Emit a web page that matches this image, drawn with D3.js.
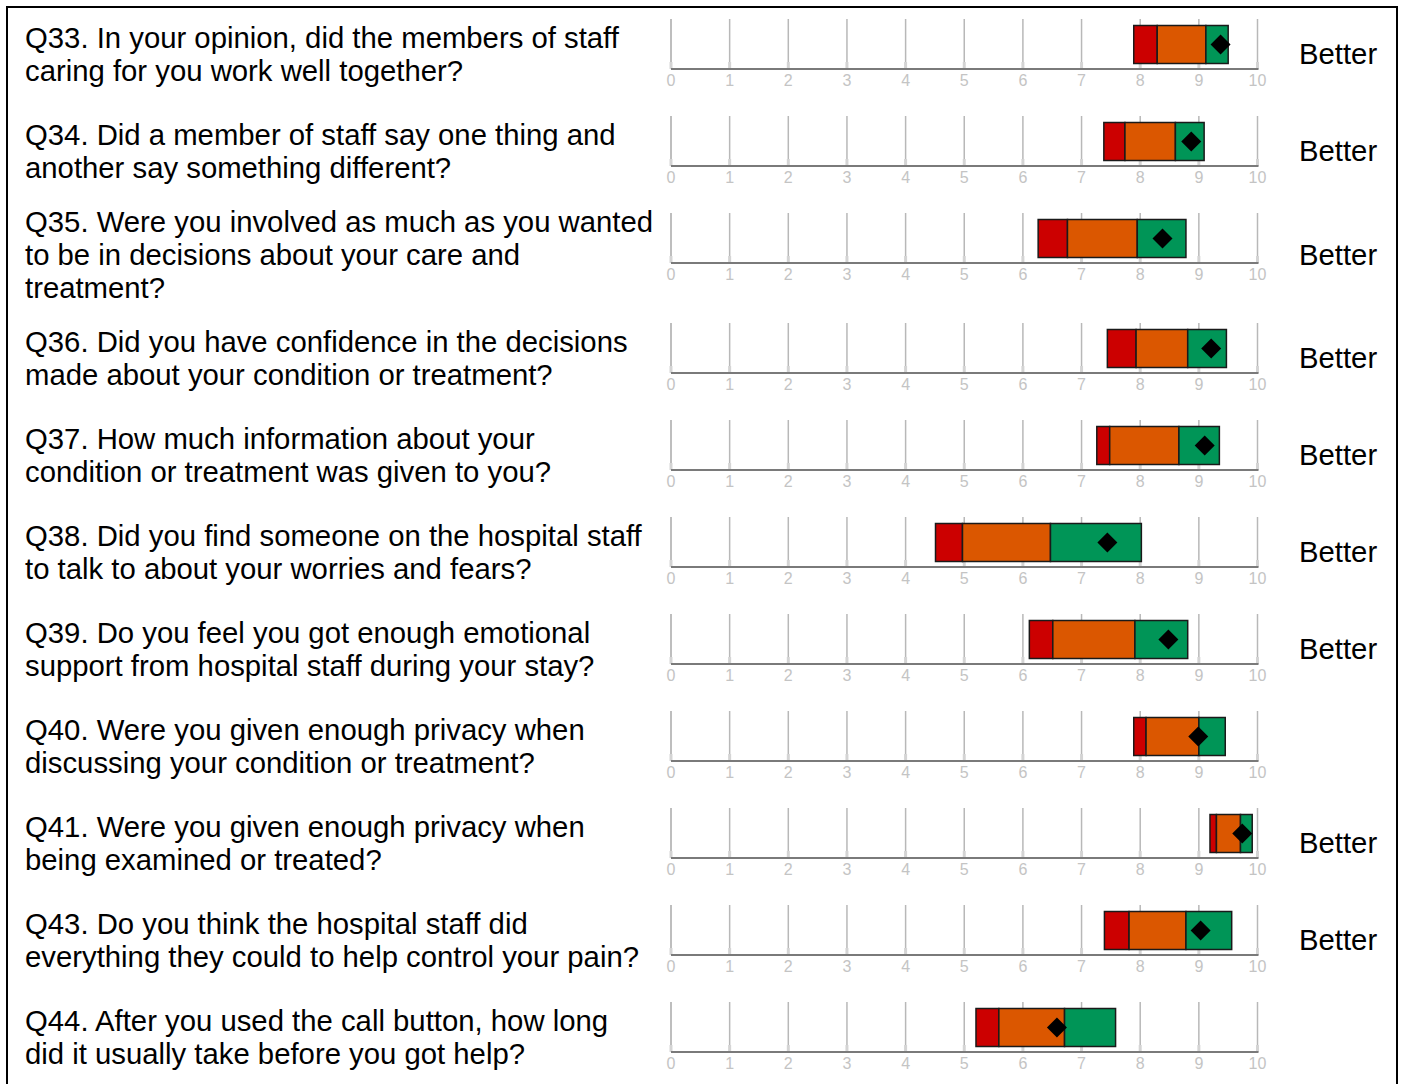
<!DOCTYPE html>
<html>
<head>
<meta charset="utf-8">
<script src="https://cdn.jsdelivr.net/npm/d3@7"></script>
<style>
  html, body { margin: 0; padding: 0; background: #fff; }
  svg { display: block; }
  text { font-family: "Liberation Sans", Arial, Helvetica, sans-serif; }
</style>
</head>
<body>
<svg id="chart" width="1404" height="1084"></svg>
<script>
// ---- data ----
const questions = [
  ["Q33. In your opinion, did the members of staff", "caring for you work well together?"],
  ["Q34. Did a member of staff say one thing and", "another say something different?"],
  ["Q35. Were you involved as much as you wanted", "to be in decisions about your care and", "treatment?"],
  ["Q36. Did you have confidence in the decisions", "made about your condition or treatment?"],
  ["Q37. How much information about your", "condition or treatment was given to you?"],
  ["Q38. Did you find someone on the hospital staff", "to talk to about your worries and fears?"],
  ["Q39. Do you feel you got enough emotional", "support from hospital staff during your stay?"],
  ["Q40. Were you given enough privacy when", "discussing your condition or treatment?"],
  ["Q41. Were you given enough privacy when", "being examined or treated?"],
  ["Q43. Do you think the hospital staff did", "everything they could to help control your pain?"],
  ["Q44. After you used the call button, how long", "did it usually take before you got help?"]
];
const bandStart   = [7.89, 7.38, 6.26, 7.44, 7.26, 4.51, 6.11, 7.89, 9.19, 7.39, 5.20];
const redEnd      = [8.29, 7.74, 6.76, 7.93, 7.48, 4.97, 6.51, 8.10, 9.30, 7.81, 5.59];
const orangeEnd   = [9.12, 8.60, 7.95, 8.81, 8.66, 6.47, 7.91, 9.00, 9.71, 8.78, 6.71];
const bandEnd     = [9.50, 9.09, 8.78, 9.47, 9.35, 8.02, 8.81, 9.45, 9.91, 9.56, 7.58];
const scores      = [9.37, 8.87, 8.38, 9.21, 9.10, 7.44, 8.48, 8.99, 9.74, 9.03, 6.58];
const results     = ["Better", "Better", "Better", "Better", "Better", "Better", "Better", "", "Better", "Better", ""];
const tickValues  = [0, 1, 2, 3, 4, 5, 6, 7, 8, 9, 10];

// ---- layout ----
const svg = d3.select("#chart");
const x = d3.scaleLinear().domain([0, 10]).range([671, 1257.5]);
const colors = { red: "#CC0000", orange: "#DB5700", green: "#009557" };
const fontSize = 29.3;

// frame
svg.append("rect").attr("x", 7).attr("y", 7).attr("width", 1390).attr("height", 1120)
  .attr("fill", "none").attr("stroke", "#000").attr("stroke-width", 2);

let rowTop = 7;
questions.forEach((lines, i) => {
  const rowH = lines.length > 2 ? 110 : 97;
  const chartTop = rowTop + 12;
  const center = rowTop + rowH / 2 - 1.5;
  const g = svg.append("g");

  // question text
  const lh = 33;
  lines.forEach((ln, k) => {
    g.append("text")
      .attr("x", 25)
      .attr("y", center + (k - (lines.length - 1) / 2) * lh + 10)
      .attr("font-size", fontSize).attr("fill", "#000")
      .text(ln);
  });

  // result label
  if (results[i]) {
    g.append("text").attr("x", 1299).attr("y", center + 10)
      .attr("font-size", fontSize).attr("fill", "#000").text(results[i]);
  }

  const axisY = chartTop + 50;
  // gridlines
  g.selectAll(".grid").data(tickValues).enter().append("line")
    .attr("x1", d => x(d)).attr("x2", d => x(d))
    .attr("y1", chartTop).attr("y2", axisY)
    .attr("stroke", (d) => d === 0 ? "#a8a8a8" : "#b8b8b8").attr("stroke-width", 1.5);
  // small ticks
  g.selectAll(".tk").data(tickValues).enter().append("line")
    .attr("x1", d => x(d)).attr("x2", d => x(d))
    .attr("y1", axisY - 7).attr("y2", axisY)
    .attr("stroke", "#d4d4d4").attr("stroke-width", 3);
  // axis line
  g.append("line").attr("x1", x(0)).attr("x2", x(10) + 1)
    .attr("y1", axisY).attr("y2", axisY)
    .attr("stroke", "#7a7a7a").attr("stroke-width", 2);
  // tick labels
  g.selectAll(".lbl").data(tickValues).enter().append("text")
    .attr("x", d => x(d)).attr("y", axisY + 17)
    .attr("text-anchor", "middle").attr("font-size", 16).attr("fill", "#c4c4c4")
    .text(d => d);

  // bars
  const barY = chartTop + 6.5, barH = 38;
  const segs = [
    [bandStart[i], redEnd[i], colors.red],
    [redEnd[i], orangeEnd[i], colors.orange],
    [orangeEnd[i], bandEnd[i], colors.green]
  ];
  g.selectAll(".seg").data(segs).enter().append("rect")
    .attr("x", d => x(d[0])).attr("width", d => x(d[1]) - x(d[0]))
    .attr("y", barY).attr("height", barH)
    .attr("fill", d => d[2]).attr("stroke", "#1a1a1a").attr("stroke-width", 1.5);

  // diamond
  const cx = x(scores[i]), cy = barY + barH / 2, r = 10;
  g.append("path")
    .attr("d", `M${cx},${cy - r}L${cx + r},${cy}L${cx},${cy + r}L${cx - r},${cy}Z`)
    .attr("fill", "#000");

  rowTop += rowH;
});
</script>
</body>
</html>
